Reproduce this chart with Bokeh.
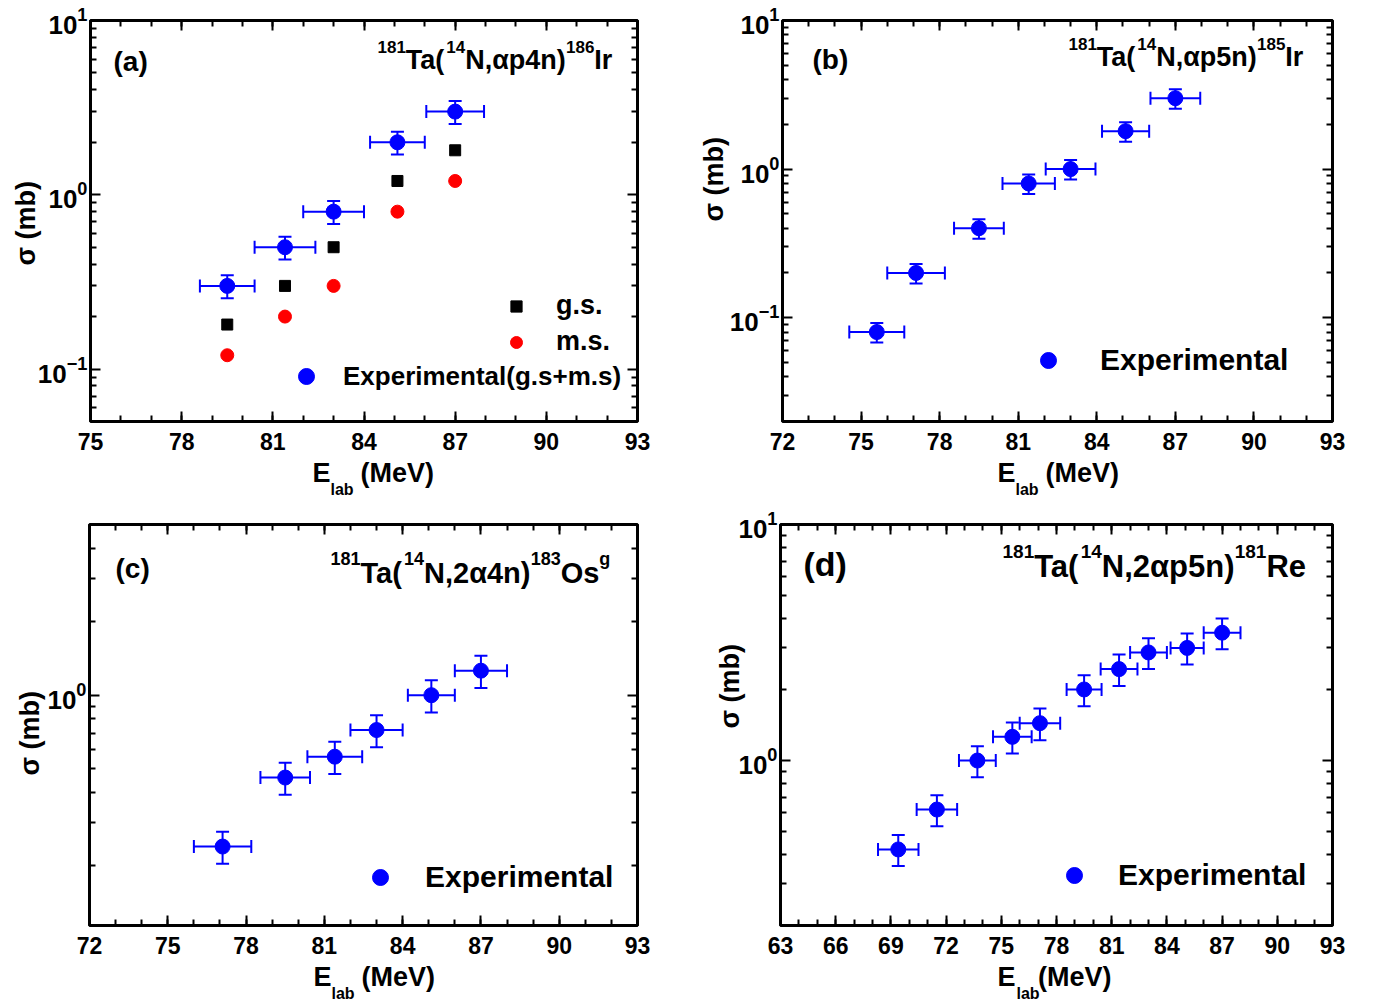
import math
from bokeh.plotting import figure
from bokeh.models import (ColumnDataSource, Whisker, TeeHead, Label, Legend, LegendItem,
                          FixedTicker, SingleIntervalTicker, LinearAxis, LogAxis,
                          CustomJSTickFormatter, Range1d, Title)
from bokeh.layouts import column, row
from bokeh.embed import file_html
from bokeh.resources import INLINE

FONT = "Liberation Sans, Arial, Helvetica, sans-serif"
BLUE = "#0000ff"
NB = "\u00a0"

# ---------------- data ----------------
a_E = [79.5, 81.4, 83.0, 85.1, 87.0]
a_Eerr = [0.9, 1.0, 1.0, 0.9, 0.95]
a_exp = [0.3, 0.5, 0.8, 2.0, 3.0]
a_exp_err = [0.045, 0.075, 0.12, 0.3, 0.45]
a_gs = [0.18, 0.3, 0.5, 1.2, 1.8]
a_ms = [0.12, 0.2, 0.3, 0.8, 1.2]

b_E = [75.6, 77.1, 79.5, 81.4, 83.0, 85.1, 87.0]
b_Eerr = [1.05, 1.1, 0.95, 1.0, 0.95, 0.9, 0.95]
b_exp = [0.08, 0.2, 0.4, 0.8, 1.0, 1.8, 3.0]
b_exp_err = [0.012, 0.03, 0.06, 0.12, 0.15, 0.27, 0.45]

c_E = [77.1, 79.5, 81.4, 83.0, 85.1, 87.0]
c_Eerr = [1.1, 0.95, 1.05, 1.0, 0.9, 1.0]
c_exp = [0.24, 0.46, 0.56, 0.72, 1.0, 1.26]
c_exp_err = [0.036, 0.069, 0.084, 0.108, 0.15, 0.19]

d_E = [69.4, 71.5, 73.7, 75.6, 77.1, 79.5, 81.4, 83.0, 85.1, 87.0]
d_Eerr = [1.1, 1.1, 1.0, 1.05, 1.1, 0.95, 1.0, 1.0, 0.9, 1.0]
d_exp = [0.42, 0.62, 1.0, 1.26, 1.44, 2.0, 2.44, 2.87, 3.0, 3.48]
d_exp_err = [0.063, 0.093, 0.15, 0.19, 0.22, 0.3, 0.37, 0.43, 0.45, 0.52]

# axis ranges / ticks
a_xr, a_yr = (75, 93), (0.05, 10)
b_xr, b_yr = (72, 93), (0.02, 10)
c_xr, c_yr = (72, 93), (0.114, 5)
d_xr, d_yr = (63, 93), (0.2, 10)

a_yticks = [0.1, 1, 10]
a_yminor = [0.06, 0.07, 0.08, 0.09, 0.2, 0.3, 0.4, 0.5, 0.6, 0.7, 0.8, 0.9,
            2, 3, 4, 5, 6, 7, 8, 9]
b_yticks = [0.1, 1, 10]
b_yminor = [0.03, 0.04, 0.05, 0.06, 0.07, 0.08, 0.09, 0.2, 0.3, 0.4, 0.5, 0.6,
            0.7, 0.8, 0.9, 2, 3, 4, 5, 6, 7, 8, 9]
c_yticks = [1]
c_yminor = [0.2, 0.3, 0.4, 0.5, 0.6, 0.7, 0.8, 0.9, 2, 3, 4]
d_yticks = [1, 10]
d_yminor = [0.3, 0.4, 0.5, 0.6, 0.7, 0.8, 0.9, 2, 3, 4, 5, 6, 7, 8, 9]

# ---------------- helpers ----------------
WID = {' ': 0.278, '(': 0.333, ')': 0.333, ',': 0.278, '.': 0.278, '+': 0.584,
       'E': 0.667, 'M': 0.833, 'e': 0.556, 'V': 0.667, 'l': 0.278, 'a': 0.556,
       'b': 0.611, 'T': 0.611, 'N': 0.722, 'p': 0.611, 'n': 0.611, 'I': 0.278,
       'r': 0.389, 'O': 0.778, 's': 0.556, 'g': 0.611, 'R': 0.722, 'α': 0.62}


def tw(s, size):
    return sum(WID.get(ch, 0.556) for ch in s) * size


def rich(p, pieces, x, y):
    for text, size, dy in pieces:
        p.add_layout(Label(x=x, y=y + dy, x_units="screen", y_units="screen", text=text,
                           text_font=FONT, text_font_style="bold",
                           text_font_size=f"{size}px", text_color="black",
                           text_baseline="alphabetic", text_align="left"))
        x += tw(text, size)


def style_axis(ax, ticker, labels, size=None, standoff=5):
    ax.ticker = ticker
    ax.axis_line_color = None
    ax.major_tick_in = 10
    ax.major_tick_out = 0
    ax.minor_tick_in = 6
    ax.minor_tick_out = 0
    ax.major_tick_line_width = 2
    ax.minor_tick_line_width = 2
    ax.major_tick_line_color = "black"
    ax.minor_tick_line_color = "black"
    if labels:
        ax.major_label_text_font = FONT
        ax.major_label_text_font_style = "bold"
        ax.major_label_text_font_size = size
        ax.major_label_text_color = "black"
        ax.major_label_standoff = standoff
    else:
        ax.formatter = CustomJSTickFormatter(code="return ''")
        ax.major_label_standoff = 0


def panel(w, h, borders, xr, yr, yticks, yminor):
    l, r, t, b = borders
    p = figure(width=w, height=h, x_range=Range1d(*xr), y_range=Range1d(*yr),
               y_axis_type="log", output_backend="svg", toolbar_location=None,
               min_border_left=l, min_border_right=r, min_border_top=t, min_border_bottom=b)
    p.grid.visible = False
    p.outline_line_color = "black"
    p.outline_line_width = 3
    p.outline_line_alpha = 1
    p.background_fill_color = "white"
    p.border_fill_color = "white"
    xt = lambda: SingleIntervalTicker(interval=3, num_minor_ticks=3)
    yt = lambda: FixedTicker(ticks=yticks, minor_ticks=yminor)
    style_axis(p.xaxis[0], xt(), True, "23px", 11)
    style_axis(p.yaxis[0], yt(), True, "26px", 3)
    top = LinearAxis()
    style_axis(top, xt(), False)
    p.add_layout(top, "above")
    right = LogAxis()
    style_axis(right, yt(), False)
    p.add_layout(right, "right")
    return p


def exp_points(p, E, Eerr, v, verr):
    src = ColumnDataSource(dict(
        x=E, y=v,
        xl=[e - d for e, d in zip(E, Eerr)], xu=[e + d for e, d in zip(E, Eerr)],
        yl=[a - d for a, d in zip(v, verr)], yu=[a + d for a, d in zip(v, verr)]))
    head = lambda: TeeHead(size=13, line_color=BLUE, line_width=2)
    p.add_layout(Whisker(source=src, base="x", lower="yl", upper="yu", dimension="height",
                         line_color=BLUE, line_width=2, upper_head=head(), lower_head=head()))
    p.add_layout(Whisker(source=src, base="y", lower="xl", upper="xu", dimension="width",
                         line_color=BLUE, line_width=2, upper_head=head(), lower_head=head()))
    return p.scatter("x", "y", source=src, size=15, marker="circle", color=BLUE)


def add_legend(p, rend, text, cx, cy, g, fsize, standoff):
    leg = Legend(items=[LegendItem(label=text, renderers=[rend])],
                 location=(int(round(cx - g / 2)), int(round(cy - g / 2))),
                 glyph_width=g, glyph_height=g,
                 label_standoff=standoff, padding=0, margin=0, spacing=0,
                 border_line_color=None, background_fill_alpha=0,
                 label_text_font=FONT, label_text_font_style="bold",
                 label_text_font_size=f"{fsize}px", label_text_color="black")
    p.add_layout(leg)


def xtitle(p, e_off, lab_off, gap, s1=10, s2=-28):
    p.add_layout(Title(text="E" + NB * gap + "(MeV)", align="left", offset=e_off, standoff=s1,
                       vertical_align="top", text_font=FONT, text_font_style="bold",
                       text_font_size="27px", text_color="black"), "below")
    p.add_layout(Title(text="lab", align="left", offset=lab_off, standoff=s2,
                       vertical_align="top", text_font=FONT, text_font_style="bold",
                       text_font_size="16px", text_color="black"), "below")


def ytitle(p, offset, standoff):
    p.add_layout(Title(text="σ (mb)", align="left", offset=offset, standoff=standoff,
                       vertical_align="bottom", text_font=FONT, text_font_style="bold",
                       text_font_size="27px", text_color="black"), "left")


# ---------------- (a) ----------------
pa = panel(686, 502, (90, 49, 18, 81), a_xr, a_yr, a_yticks, a_yminor)
ra = exp_points(pa, a_E, a_Eerr, a_exp, a_exp_err)
rgs = pa.scatter(a_E, a_gs, marker="square", size=11, color="black")
rms = pa.scatter(a_E, a_ms, marker="circle", size=13, color="red")
add_legend(pa, rgs, "g.s.", 426, 114, 28, 27, 26)
add_legend(pa, rms, "m.s.", 426, 79, 30, 27, 25)
add_legend(pa, ra, "Experimental(g.s+m.s)", 216, 45, 40, 26, 17)
rich(pa, [("(a)", 28, 0)], 23, 360)
rich(pa, [("181", 17, 13), ("Ta(", 27, 0), ("14", 17, 13), ("N,αp4n)", 27, 0),
          ("186", 17, 13), ("Ir", 27, 0)], 287, 362)
xtitle(pa, 222, 240, 4)
ytitle(pa, 156, -13)

# ---------------- (b) ----------------
pb = panel(684, 502, (96, 38, 20, 77), b_xr, b_yr, b_yticks, b_yminor)
rb = exp_points(pb, b_E, b_Eerr, b_exp, b_exp_err)
add_legend(pb, rb, "Experimental", 266, 61, 40, 30, 32)
rich(pb, [("(b)", 28, 0)], 30, 362)
rich(pb, [("181", 17, 13), ("Ta(", 27, 0), ("14", 17, 13), ("N,αp5n)", 27, 0),
          ("185", 17, 13), ("Ir", 27, 0)], 286, 365)
xtitle(pb, 215, 233, 4)
ytitle(pb, 200, -5)

# ---------------- (c) ----------------
pc = panel(686, 501, (89, 49, 21, 78), c_xr, c_yr, c_yticks, c_yminor)
rc = exp_points(pc, c_E, c_Eerr, c_exp, c_exp_err)
add_legend(pc, rc, "Experimental", 291, 48, 40, 30, 25)
rich(pc, [("(c)", 28, 0)], 26, 357)
rich(pc, [("181", 18, 14), ("Ta(", 29, 0), ("14", 18, 14), ("N,2α4n)", 29, 0),
          ("183", 18, 14), ("Os", 29, 0), ("g", 18, 14)], 241, 353)
xtitle(pc, 224, 242, 4)
ytitle(pc, 150, -1)

# ---------------- (d) ----------------
pd = panel(684, 501, (94, 38, 22, 76), d_xr, d_yr, d_yticks, d_yminor)
rd = exp_points(pd, d_E, d_Eerr, d_exp, d_exp_err)
add_legend(pd, rd, "Experimental", 294, 50, 40, 30, 24)
rich(pd, [("(d)", 34, 0)], 23, 362)
rich(pd, [("181", 19, 15), ("Ta(", 31, 0), ("14", 19, 15), ("N,2αp5n)", 31, 0),
          ("181", 19, 15), ("Re", 31, 0)], 222, 359)
xtitle(pd, 217, 236, 3)
ytitle(pd, 197, -19)

layout = column(row(pa, pb), row(pc, pd))
open("out.html", "w").write(file_html(layout, INLINE))
